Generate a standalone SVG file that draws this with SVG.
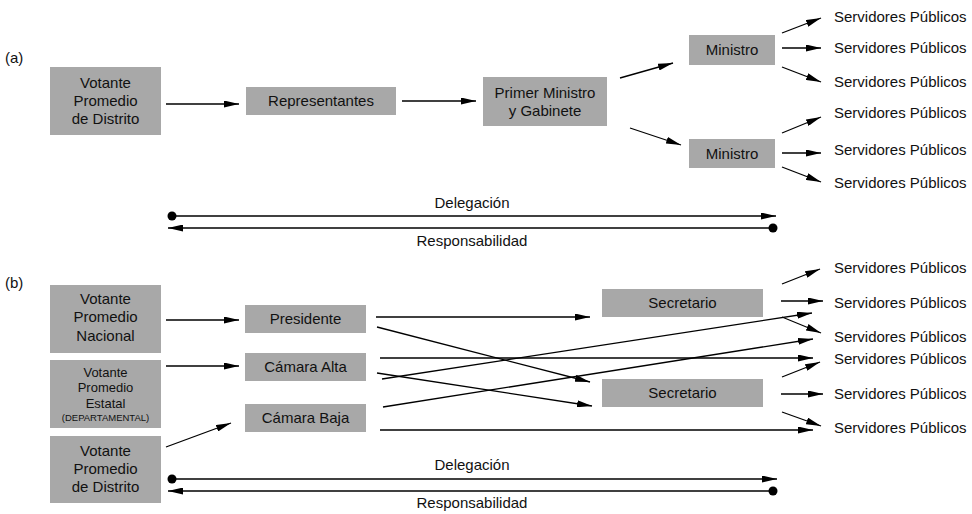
<svg xmlns="http://www.w3.org/2000/svg" width="972" height="514" viewBox="0 0 972 514">
<defs>
<style>
text{font-family:"Liberation Sans",Arial,sans-serif;font-size:15px;fill:#111;}
.c{text-anchor:middle;}
.box{fill:#a8a8a8;}
.ln{stroke:#000;stroke-width:1.3;fill:none;}
.dl{stroke:#000;stroke-width:1.6;fill:none;}
.sm{font-size:13px;}
.xs{font-size:9.5px;}
</style>
<marker id="ah" viewBox="0 0 15 7" refX="15" refY="3.5" markerWidth="15" markerHeight="7" markerUnits="userSpaceOnUse" orient="auto">
<path d="M0,0 L15,3.5 L0,7 z" fill="#000"/>
</marker>
<marker id="ahs" viewBox="0 0 15 7" refX="0" refY="3.5" markerWidth="15" markerHeight="7" markerUnits="userSpaceOnUse" orient="auto">
<path d="M15,0 L0,3.5 L15,7 z" fill="#000"/>
</marker>
</defs>
<rect width="972" height="514" fill="#fff"/>

<text x="5" y="63">(a)</text>
<text x="5" y="288">(b)</text>

<g id="a-votante-distrito"><rect class="box" x="50" y="67" width="111" height="68"/>
<text class="c" x="105.5" y="88">Votante</text><text class="c" x="105.5" y="106">Promedio</text><text class="c" x="105.5" y="124">de Distrito</text></g>
<g id="a-representantes"><rect class="box" x="246" y="87" width="150" height="28"/><text class="c" x="321" y="106">Representantes</text></g>
<g id="a-primer-ministro"><rect class="box" x="483" y="77" width="124" height="49"/>
<text class="c" x="545" y="98">Primer Ministro</text><text class="c" x="545" y="116">y Gabinete</text></g>
<g id="a-ministro-1"><rect class="box" x="689" y="35" width="86" height="30"/><text class="c" x="732" y="55">Ministro</text></g>
<g id="a-ministro-2"><rect class="box" x="689" y="139" width="86" height="29"/><text class="c" x="732" y="159">Ministro</text></g>
<g id="a-servidores">
<text x="834" y="22">Servidores Públicos</text>
<text x="834" y="53">Servidores Públicos</text>
<text x="834" y="87">Servidores Públicos</text>
<text x="834" y="118">Servidores Públicos</text>
<text x="834" y="155">Servidores Públicos</text>
<text x="834" y="188">Servidores Públicos</text>
</g>
<g id="a-labels">
<text class="c" x="472" y="208">Delegación</text>
<text class="c" x="472" y="246">Responsabilidad</text>
</g>

<g id="b-votante-nacional"><rect class="box" x="50" y="285" width="111" height="68"/>
<text class="c" x="105.5" y="304">Votante</text><text class="c" x="105.5" y="322">Promedio</text><text class="c" x="105.5" y="341">Nacional</text></g>
<g id="b-votante-estatal"><rect class="box" x="50" y="360" width="111" height="68"/>
<text class="c sm" x="105.5" y="377">Votante</text><text class="c sm" x="105.5" y="392">Promedio</text><text class="c sm" x="105.5" y="408">Estatal</text><text class="c xs" x="105.5" y="421">(DEPARTAMENTAL)</text></g>
<g id="b-votante-distrito"><rect class="box" x="50" y="436" width="111" height="67"/>
<text class="c" x="105.5" y="456">Votante</text><text class="c" x="105.5" y="474">Promedio</text><text class="c" x="105.5" y="492">de Distrito</text></g>
<g id="b-presidente"><rect class="box" x="245" y="305" width="121" height="28"/><text class="c" x="305.5" y="324">Presidente</text></g>
<g id="b-camara-alta"><rect class="box" x="245" y="353" width="121" height="28"/><text class="c" x="305.5" y="372">Cámara Alta</text></g>
<g id="b-camara-baja"><rect class="box" x="245" y="404" width="121" height="28"/><text class="c" x="305.5" y="423">Cámara Baja</text></g>
<g id="b-secretario-1"><rect class="box" x="602" y="289" width="161" height="28"/><text class="c" x="682.5" y="308">Secretario</text></g>
<g id="b-secretario-2"><rect class="box" x="602" y="379" width="161" height="28"/><text class="c" x="682.5" y="398">Secretario</text></g>
<g id="b-servidores">
<text x="834" y="273">Servidores Públicos</text>
<text x="834" y="308">Servidores Públicos</text>
<text x="834" y="342">Servidores Públicos</text>
<text x="834" y="364">Servidores Públicos</text>
<text x="834" y="399">Servidores Públicos</text>
<text x="834" y="433">Servidores Públicos</text>
</g>
<g id="b-labels">
<text class="c" x="472" y="470">Delegación</text>
<text class="c" x="472" y="508">Responsabilidad</text>
</g>

<g id="connectors">
<!-- (a) -->
<line class="ln" x1="166" y1="104" x2="239" y2="104" marker-end="url(#ah)"/>
<line class="ln" x1="402" y1="101" x2="476" y2="101" marker-end="url(#ah)"/>
<line class="ln" x1="620" y1="78" x2="673" y2="63" marker-end="url(#ah)"/>
<line class="ln" x1="630" y1="128" x2="681" y2="145" marker-end="url(#ah)"/>
<line class="ln" x1="782" y1="33" x2="821" y2="18" marker-end="url(#ah)"/>
<line class="ln" x1="782" y1="48" x2="821" y2="48" marker-end="url(#ah)"/>
<line class="ln" x1="782" y1="67" x2="821" y2="82" marker-end="url(#ah)"/>
<line class="ln" x1="782" y1="133" x2="821" y2="117" marker-end="url(#ah)"/>
<line class="ln" x1="782" y1="153" x2="821" y2="153" marker-end="url(#ah)"/>
<line class="ln" x1="782" y1="167" x2="821" y2="182" marker-end="url(#ah)"/>
<line class="dl" x1="172" y1="216" x2="776" y2="216" marker-end="url(#ah)"/>
<circle cx="172" cy="216" r="4.5" fill="#000"/>
<line class="dl" x1="168" y1="228" x2="773" y2="228" marker-start="url(#ahs)"/>
<circle cx="773" cy="228" r="4.5" fill="#000"/>
<!-- (b) -->
<line class="ln" x1="166" y1="320" x2="239" y2="320" marker-end="url(#ah)"/>
<line class="ln" x1="166" y1="366" x2="239" y2="366" marker-end="url(#ah)"/>
<line class="ln" x1="166" y1="447" x2="231" y2="423" marker-end="url(#ah)"/>
<line class="ln" x1="376" y1="317" x2="590" y2="317" marker-end="url(#ah)"/>
<line class="ln" x1="377" y1="327" x2="590" y2="382" marker-end="url(#ah)"/>
<line class="ln" x1="380" y1="358" x2="813" y2="358" marker-end="url(#ah)"/>
<line class="ln" x1="377" y1="373" x2="592" y2="406" marker-end="url(#ah)"/>
<line class="ln" x1="382" y1="379" x2="812" y2="313" marker-end="url(#ah)"/>
<line class="ln" x1="383" y1="407" x2="813" y2="339" marker-end="url(#ah)"/>
<line class="ln" x1="380" y1="430" x2="813" y2="430" marker-end="url(#ah)"/>
<line class="ln" x1="782" y1="284" x2="820" y2="269" marker-end="url(#ah)"/>
<line class="ln" x1="781" y1="301" x2="823" y2="301" marker-end="url(#ah)"/>
<line class="ln" x1="782" y1="317" x2="821" y2="333" marker-end="url(#ah)"/>
<line class="ln" x1="782" y1="377" x2="820" y2="362" marker-end="url(#ah)"/>
<line class="ln" x1="781" y1="394" x2="823" y2="394" marker-end="url(#ah)"/>
<line class="ln" x1="782" y1="412" x2="821" y2="426" marker-end="url(#ah)"/>
<line class="dl" x1="172" y1="479" x2="777" y2="479" marker-end="url(#ah)"/>
<circle cx="172" cy="479" r="4.5" fill="#000"/>
<line class="dl" x1="168" y1="491" x2="773" y2="491" marker-start="url(#ahs)"/>
<circle cx="773" cy="491" r="4.5" fill="#000"/>
</g>
</svg>
